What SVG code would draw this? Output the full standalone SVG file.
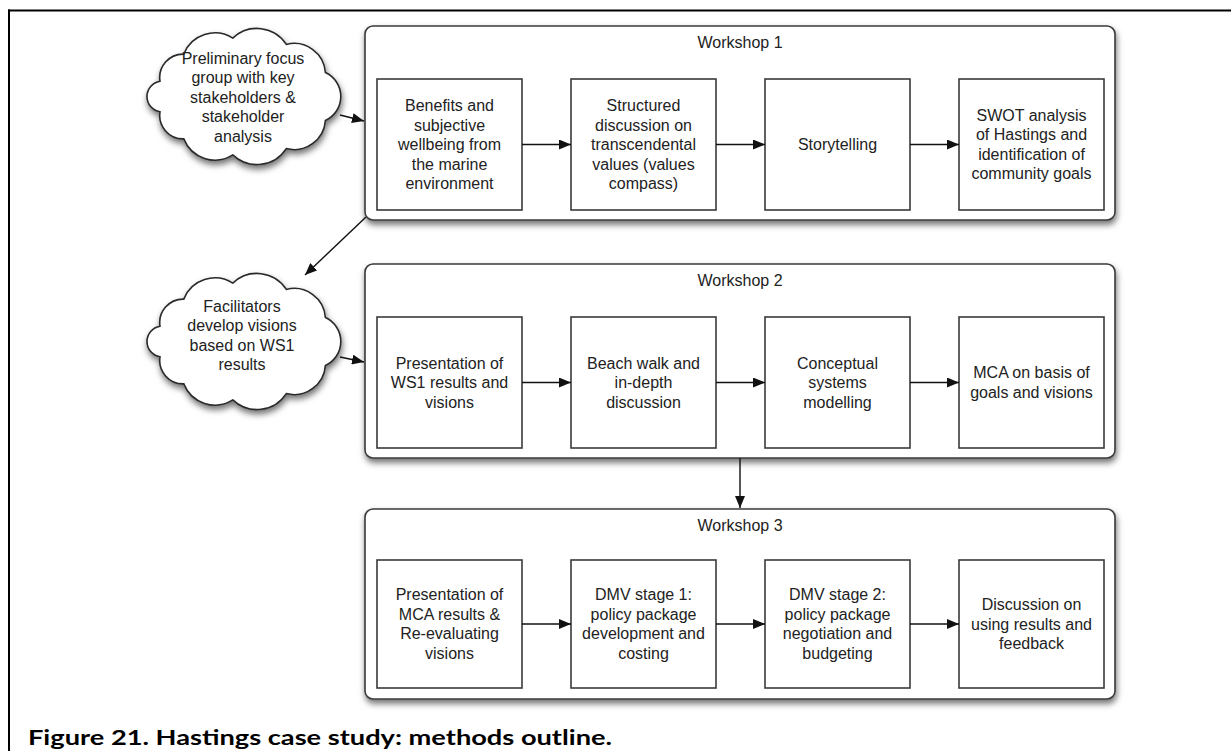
<svg xmlns="http://www.w3.org/2000/svg" xmlns:xlink="http://www.w3.org/1999/xlink" width="1231" height="751" viewBox="0 0 1231 751">
<style>
  .t{font-family:"Liberation Sans",Arial,Helvetica,sans-serif;font-size:16px;fill:#222;text-anchor:middle}
  .cont{fill:#fff;stroke:#3a3a3a;stroke-width:1.6;filter:url(#sh)}
  .box{fill:#fff;stroke:#3a3a3a;stroke-width:1.6}
  .cloud{fill:#fff;stroke:#2a2a2a;stroke-width:1.6;filter:url(#sh)}
  .conn{stroke:#111;stroke-width:1.4;fill:none;marker-end:url(#ah)}
  .cap{font-family:Lato,"Liberation Sans",sans-serif;font-weight:bold;font-size:21px;fill:#000}
</style>
<defs>
  <filter id="sh" x="-10%" y="-10%" width="125%" height="135%">
    <feDropShadow dx="1" dy="4" stdDeviation="3" flood-color="#000" flood-opacity="0.55"/>
  </filter>
  <marker id="ah" viewBox="0 0 12 10" refX="12" refY="5" markerWidth="12" markerHeight="10" markerUnits="userSpaceOnUse" orient="auto">
    <path d="M0,0 L12,5 L0,10 Z" fill="#111"/>
  </marker>
  <path id="cloudShape" d="M325.4 72.5 A26.4 26.4 0 0 1 325.4 120.5 A31.3 31.3 0 0 1 286.3 148.6 A35 35 0 0 1 232.8 154.9 A33.5 33.5 0 0 1 183.8 138.9 A23.5 23.5 0 0 1 160 111.8 A15.5 15.5 0 0 1 160 81.2 A23.5 23.5 0 0 1 183.8 54.1 A33.5 33.5 0 0 1 232.8 38.1 A35 35 0 0 1 286.3 44.4 A31.3 31.3 0 0 1 325.4 72.5 Z"/>
</defs>
<rect width="1231" height="751" fill="#fff"/>
<g id="frame">
  <line x1="8" y1="10.5" x2="1231" y2="10.5" stroke="#000" stroke-width="2"/>
  <line x1="9" y1="9.5" x2="9" y2="751" stroke="#000" stroke-width="2"/>
</g>

<g id="cloud1">
  <use xlink:href="#cloudShape" class="cloud"/>
  <text class="t" x="243" y="63.5">Preliminary focus</text>
  <text class="t" x="243" y="83">group with key</text>
  <text class="t" x="243" y="102.5">stakeholders &amp;</text>
  <text class="t" x="243" y="122">stakeholder</text>
  <text class="t" x="243" y="141.5">analysis</text>
</g>

<g id="cloud2">
  <use xlink:href="#cloudShape" class="cloud" transform="translate(0,245)"/>
  <text class="t" x="242" y="311.5">Facilitators</text>
  <text class="t" x="242" y="331">develop visions</text>
  <text class="t" x="242" y="350.5">based on WS1</text>
  <text class="t" x="242" y="370">results</text>
</g>

<g id="workshop1">
  <rect class="cont" x="365" y="26" width="750" height="194" rx="8"/>
  <text class="t" x="740" y="47.5">Workshop 1</text>
</g>
<g id="w1b1">
  <rect class="box" x="377" y="79" width="145" height="131"/>
  <text class="t" x="449.5" y="111">Benefits and</text>
  <text class="t" x="449.5" y="130.5">subjective</text>
  <text class="t" x="449.5" y="150">wellbeing from</text>
  <text class="t" x="449.5" y="169.5">the marine</text>
  <text class="t" x="449.5" y="189">environment</text>
</g>
<g id="w1b2">
  <rect class="box" x="571" y="79" width="145" height="131"/>
  <text class="t" x="643.5" y="111">Structured</text>
  <text class="t" x="643.5" y="130.5">discussion on</text>
  <text class="t" x="643.5" y="150">transcendental</text>
  <text class="t" x="643.5" y="169.5">values (values</text>
  <text class="t" x="643.5" y="189">compass)</text>
</g>
<g id="w1b3">
  <rect class="box" x="765" y="79" width="145" height="131"/>
  <text class="t" x="837.5" y="150">Storytelling</text>
</g>
<g id="w1b4">
  <rect class="box" x="959" y="79" width="145" height="131"/>
  <text class="t" x="1031.5" y="120.75">SWOT analysis</text>
  <text class="t" x="1031.5" y="140.25">of Hastings and</text>
  <text class="t" x="1031.5" y="159.75">identification of</text>
  <text class="t" x="1031.5" y="179.25">community goals</text>
</g>

<g id="workshop2">
  <rect class="cont" x="365" y="264" width="750" height="194" rx="8"/>
  <text class="t" x="740" y="286">Workshop 2</text>
</g>
<g id="w2b1">
  <rect class="box" x="377" y="317" width="145" height="131"/>
  <text class="t" x="449.5" y="368.5">Presentation of</text>
  <text class="t" x="449.5" y="388">WS1 results and</text>
  <text class="t" x="449.5" y="407.5">visions</text>
</g>
<g id="w2b2">
  <rect class="box" x="571" y="317" width="145" height="131"/>
  <text class="t" x="643.5" y="368.5">Beach walk and</text>
  <text class="t" x="643.5" y="388">in-depth</text>
  <text class="t" x="643.5" y="407.5">discussion</text>
</g>
<g id="w2b3">
  <rect class="box" x="765" y="317" width="145" height="131"/>
  <text class="t" x="837.5" y="368.5">Conceptual</text>
  <text class="t" x="837.5" y="388">systems</text>
  <text class="t" x="837.5" y="407.5">modelling</text>
</g>
<g id="w2b4">
  <rect class="box" x="959" y="317" width="145" height="131"/>
  <text class="t" x="1031.5" y="378.25">MCA on basis of</text>
  <text class="t" x="1031.5" y="397.75">goals and visions</text>
</g>

<g id="workshop3">
  <rect class="cont" x="365" y="509" width="750" height="190" rx="8"/>
  <text class="t" x="740" y="531">Workshop 3</text>
</g>
<g id="w3b1">
  <rect class="box" x="377" y="560" width="145" height="128"/>
  <text class="t" x="449.5" y="600.25">Presentation of</text>
  <text class="t" x="449.5" y="619.75">MCA results &amp;</text>
  <text class="t" x="449.5" y="639.25">Re-evaluating</text>
  <text class="t" x="449.5" y="658.75">visions</text>
</g>
<g id="w3b2">
  <rect class="box" x="571" y="560" width="145" height="128"/>
  <text class="t" x="643.5" y="600.25">DMV stage 1:</text>
  <text class="t" x="643.5" y="619.75">policy package</text>
  <text class="t" x="643.5" y="639.25">development and</text>
  <text class="t" x="643.5" y="658.75">costing</text>
</g>
<g id="w3b3">
  <rect class="box" x="765" y="560" width="145" height="128"/>
  <text class="t" x="837.5" y="600.25">DMV stage 2:</text>
  <text class="t" x="837.5" y="619.75">policy package</text>
  <text class="t" x="837.5" y="639.25">negotiation and</text>
  <text class="t" x="837.5" y="658.75">budgeting</text>
</g>
<g id="w3b4">
  <rect class="box" x="959" y="560" width="145" height="128"/>
  <text class="t" x="1031.5" y="610">Discussion on</text>
  <text class="t" x="1031.5" y="629.5">using results and</text>
  <text class="t" x="1031.5" y="649">feedback</text>
</g>

<g id="connectors">
  <line class="conn" x1="340" y1="115" x2="364" y2="121"/>
  <line class="conn" x1="340" y1="357" x2="364" y2="362"/>
  <line class="conn" x1="366" y1="217" x2="305" y2="275"/>
  <line class="conn" x1="740" y1="458" x2="740" y2="508"/>
  <line class="conn" x1="522" y1="144.5" x2="571" y2="144.5"/>
  <line class="conn" x1="716" y1="144.5" x2="765" y2="144.5"/>
  <line class="conn" x1="910" y1="144.5" x2="959" y2="144.5"/>
  <line class="conn" x1="522" y1="382.5" x2="571" y2="382.5"/>
  <line class="conn" x1="716" y1="382.5" x2="765" y2="382.5"/>
  <line class="conn" x1="910" y1="382.5" x2="959" y2="382.5"/>
  <line class="conn" x1="522" y1="624" x2="571" y2="624"/>
  <line class="conn" x1="716" y1="624" x2="765" y2="624"/>
  <line class="conn" x1="910" y1="624" x2="959" y2="624"/>
</g>

<text class="cap" x="28" y="745" textLength="584" lengthAdjust="spacingAndGlyphs">Figure 21. Hastings case study: methods outline.</text>
</svg>
